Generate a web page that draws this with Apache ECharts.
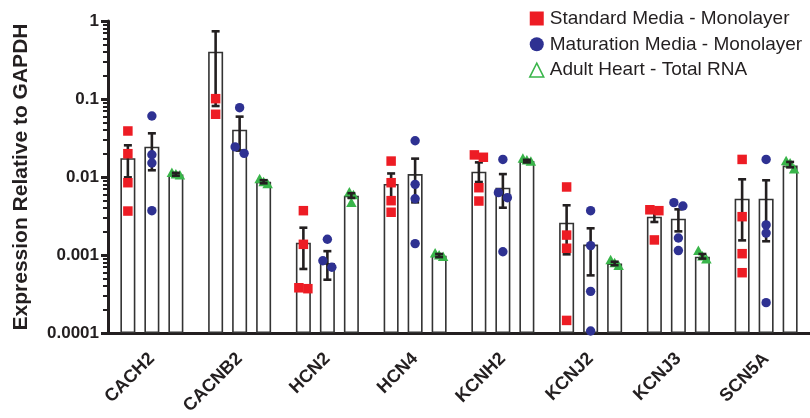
<!DOCTYPE html>
<html><head><meta charset="utf-8">
<script src="https://cdn.jsdelivr.net/npm/echarts@6/dist/echarts.min.js"></script>
<style>html,body{margin:0;padding:0;background:#fff}#c{width:810px;height:418px}</style>
</head><body><div id="c"></div>
<script>
const categories = ['CACH2','CACNB2','HCN2','HCN4','KCNH2','KCNJ2','KCNJ3','SCN5A'];
const seriesNames = ['Standard Media - Monolayer','Maturation Media - Monolayer','Adult Heart - Total RNA'];
const yTickLabels = ['0.0001','0.001','0.01','0.1','1'];

const stdMean = [0.0174, 0.404, 0.00144, 0.00813, 0.0117, 0.0026, 0.0031, 0.00527];
const stdLow  = [0.0099, 0.0813, 0.000662, 0.0055, 0.00863, 0.00102, 0.00265, 0.00154];
const stdHigh = [0.0255, 0.738, 0.00224, 0.0111, 0.0154, 0.00434, 0.0037, 0.00934];
const stdPoints = [
  [0.0389, 0.0199, 0.00845, 0.00366],
  [0.101, 0.0637],
  [0.0037, 0.00137, 0.00037, 0.00038],
  [0.016, 0.00845, 0.00497, 0.00353],
  [0.0179, 0.0192, 0.00729, 0.00492],
  [0.00745, 0.0018, 0.00122, 0.000145],
  [0.0037, 0.0038, 0.00156],
  [0.0168, 0.0031, 0.00104, 0.000593]
];

const matMean = [0.0245, 0.0404, 0.000789, 0.0109, 0.0073, 0.00136, 0.00292, 0.00527];
const matLow  = [0.0122, 0.0218, 0.000482, 0.00473, 0.00404, 0.000548, 0.00201, 0.0015];
const matHigh = [0.0363, 0.0594, 0.00112, 0.0172, 0.0109, 0.0022, 0.00385, 0.00908];
const matPoints = [
  [0.0605, 0.0193, 0.0151, 0.0037],
  [0.0774, 0.0243, 0.0201],
  [0.00159, 0.000845, 0.000696],
  [0.0292, 0.00805, 0.00527, 0.0014],
  [0.0168, 0.0063, 0.00543, 0.0011],
  [0.0037, 0.00132, 0.000342, 0.000106],
  [0.00469, 0.00425, 0.00165, 0.00114],
  [0.0168, 0.00243, 0.00191, 0.000245]
];

const adultMean = [0.0108, 0.0087, 0.00576, 0.00098, 0.016, 0.00078, 0.00095, 0.014];
const adultLow  = [0.0104, 0.0083, 0.0054, 0.00094, 0.0154, 0.00074, 0.0009, 0.0133];
const adultHigh = [0.0113, 0.0091, 0.0062, 0.00103, 0.0166, 0.00082, 0.00103, 0.0156];
const adultPoints = [
  [0.0112, 0.0107, 0.0104],
  [0.0093, 0.0085, 0.0080],
  [0.0063, 0.0058, 0.0046],
  [0.00104, 0.00098, 0.00094],
  [0.0170, 0.0162, 0.0156],
  [0.00085, 0.00078, 0.00072],
  [0.00112, 0.00095, 0.00087],
  [0.0158, 0.0148, 0.0124]
];

const RED = '#ed1c24', BLUE = '#2e3192', GREEN = '#39b54a', INK = '#231f20';
const BAR_W = 15, BAR_GAP = 9;
const means = [stdMean, matMean, adultMean];
const lows = [stdLow, matLow, adultLow];
const highs = [stdHigh, matHigh, adultHigh];
const points = [stdPoints, matPoints, adultPoints];
const colors = [RED, BLUE, GREEN];
const spread = [9, 9, 4];

function barOffset(g) { return (g - 1) * (BAR_W + BAR_GAP); }

function pointRender(g) {
  return function (params, api) {
    const c = api.value(0), v = api.value(1), k = api.value(2);
    const arr = points[g][c];
    const ys = arr.map(val => api.coord([c, val])[1]);
    const order = ys.map((y, i) => i).sort((a, b) => ys[a] - ys[b]);
    const clusters = [];
    let cur = [order[0]];
    for (let i = 1; i < order.length; i++) {
      if (Math.abs(ys[order[i]] - ys[cur[cur.length - 1]]) < 7.5) cur.push(order[i]);
      else { clusters.push(cur); cur = [order[i]]; }
    }
    clusters.push(cur);
    let dx = 0;
    clusters.forEach(cl => {
      const pos = cl.indexOf(k);
      if (pos >= 0) dx = (pos - (cl.length - 1) / 2) * spread[g];
    });
    const p = api.coord([c, v]);
    const cx = p[0] + barOffset(g) + dx, cy = p[1];
    if (g === 0) {
      const s = 9.5;
      return { type: 'rect', shape: { x: cx - s / 2, y: cy - s / 2, width: s, height: s }, style: { fill: RED } };
    } else if (g === 1) {
      return { type: 'circle', shape: { cx: cx, cy: cy, r: 4.7 }, style: { fill: BLUE } };
    } else {
      const h = 9.5, w = 10.5;
      return { type: 'polygon', shape: { points: [[cx, cy - h * 0.6], [cx + w / 2, cy + h * 0.4], [cx - w / 2, cy + h * 0.4]] }, style: { fill: GREEN } };
    }
  };
}

function errRender(g) {
  return function (params, api) {
    const c = api.value(0);
    const lo = api.coord([c, api.value(1)]);
    const hi = api.coord([c, api.value(2)]);
    const x = lo[0] + barOffset(g);
    const cap = 4;
    const st = { stroke: INK, lineWidth: 2.6 };
    return { type: 'group', children: [
      { type: 'line', shape: { x1: x, y1: lo[1], x2: x, y2: hi[1] }, style: st },
      { type: 'line', shape: { x1: x - cap, y1: lo[1], x2: x + cap, y2: lo[1] }, style: st },
      { type: 'line', shape: { x1: x - cap, y1: hi[1], x2: x + cap, y2: hi[1] }, style: st }
    ] };
  };
}

const minorTicks = [];
for (let e = -4; e < 0; e++) for (let m = 2; m <= 9; m++) minorTicks.push(m * Math.pow(10, e));

const series = [];
for (let g = 0; g < 3; g++) {
  series.push({
    type: 'bar', name: 'bar' + g, data: means[g], barWidth: BAR_W,
    barGap: (BAR_GAP / BAR_W * 100) + '%',
    itemStyle: { color: '#ffffff', borderColor: '#333333', borderWidth: 1.6 },
    z: 1, silent: true
  });
}
for (let g = 0; g < 3; g++) {
  series.push({
    type: 'custom', name: 'err' + g, renderItem: errRender(g), z: g === 2 ? 5 : 2,
    data: categories.map((_, c) => [c, lows[g][c], highs[g][c]]), silent: true
  });
}
for (let g = 0; g < 3; g++) {
  const d = [];
  points[g].forEach((arr, c) => arr.forEach((v, k) => d.push([c, v, k])));
  series.push({
    type: 'custom', name: seriesNames[g], renderItem: pointRender(g), z: 3,
    itemStyle: { color: colors[g] }, data: d, silent: true
  });
}

const chart = echarts.init(document.getElementById('c'), null, { renderer: 'canvas' });
chart.setOption({
  animation: false,
  backgroundColor: '#ffffff',
  textStyle: { fontFamily: 'Liberation Sans, Arial, sans-serif' },
  grid: { left: 108, top: 21, width: 703, height: 312, containLabel: false },
  legend: {
    orient: 'vertical', left: 524, top: 4, itemWidth: 14, itemHeight: 14, itemGap: 6.8,
    textStyle: { fontSize: 19, color: INK, padding: [0, 0, 0, 1], fontFamily: 'Liberation Sans, Arial, sans-serif' },
    data: [
      { name: seriesNames[0], icon: 'rect', itemStyle: { color: RED } },
      { name: seriesNames[1], icon: 'circle', itemStyle: { color: BLUE } },
      { name: seriesNames[2], icon: 'triangle', itemStyle: { color: 'rgba(0,0,0,0)', borderColor: GREEN, borderWidth: 1.5 } }
    ],
    selectedMode: false
  },
  xAxis: {
    type: 'category', data: categories, boundaryGap: true,
    axisLine: { lineStyle: { color: INK, width: 3 } },
    axisTick: { alignWithLabel: true, length: 6, lineStyle: { color: INK, width: 3 } },
    axisLabel: { rotate: 45, fontSize: 18, fontWeight: 'bold', color: INK, margin: 23, interval: 0 }
  },
  yAxis: [{
    type: 'log', logBase: 10, min: 0.0001, max: 1, startValue: 0.0001,
    name: 'Expression Relative to GAPDH', nameLocation: 'middle', nameGap: 76, nameRotate: 90,
    nameTextStyle: { fontSize: 21, fontWeight: 'bold', color: INK },
    axisLine: { show: true, lineStyle: { color: INK, width: 3 } },
    axisTick: { show: true, length: 7, lineStyle: { color: INK, width: 3 } },
    splitLine: { show: false },
    axisLabel: {
      fontSize: 17, fontWeight: 'bold', color: INK, margin: 9,
      formatter: v => yTickLabels[Math.round(Math.log10(v)) + 4]
    }
  }, {
    type: 'log', logBase: 10, min: 0.0001, max: 1, position: 'left', offset: 0,
    axisLine: { show: false }, splitLine: { show: false }, axisLabel: { show: false },
    axisTick: { show: true, length: 5, customValues: minorTicks, lineStyle: { color: INK, width: 2 } }
  }],
  series: series
});
</script>
</body></html>
